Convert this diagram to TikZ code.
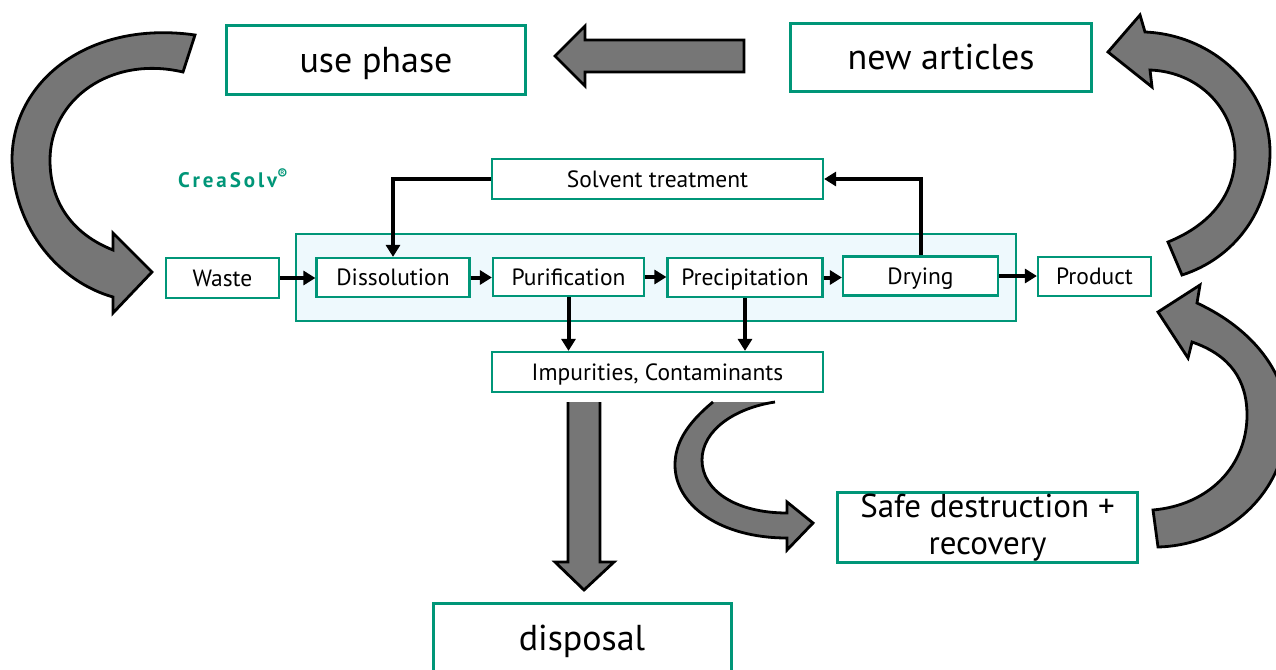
\documentclass[tikz,border=0pt]{standalone}
\usepackage{fontspec}
\setmainfont{PT Sans}
\newfontfamily\creafont[LetterSpace=14]{PT Sans}
\usetikzlibrary{arrows.meta}
\definecolor{fgreen}{RGB}{0,150,120}
\definecolor{agray}{RGB}{118,118,118}
\definecolor{lblue}{RGB}{238,249,253}
\begin{document}
\begin{tikzpicture}[x=1pt,y=-1pt,
  bigbox/.style={draw=fgreen, line width=3pt, fill=white, inner sep=0pt, align=center,
    font=\fontsize{36}{40}\selectfont},
  onebig/.style={bigbox, text height=32pt, text depth=8pt},
  smallbox/.style={draw=fgreen, line width=2.2pt, fill=white, inner sep=0pt,
    font=\fontsize{23.5}{27}\selectfont, text height=21pt, text depth=5pt},
  conn/.style={line width=4pt, -{Triangle[length=12pt,width=14pt]}},
  blockarrow/.style={fill=agray, draw=black, line width=2.8pt, line join=miter},
  blockfill/.style={fill=agray},
  blockline/.style={draw=black, line width=2.8pt, line join=miter}]
\clip (0,0) rectangle (1276,669);
\fill[white] (0,0) rectangle (1276,669);

% container
\node[draw=fgreen, fill=lblue, line width=2.2pt, minimum width=720pt, minimum height=87pt, inner sep=0pt] (proc) at (656,277.5) {};

% boxes
\node[onebig, minimum width=299pt, minimum height=69pt] (use) at (376,60) {use phase};
\node[onebig, minimum width=301pt, minimum height=68pt] (new) at (941,57.5) {new articles};
\node[smallbox, minimum width=331pt, minimum height=40pt] (solv) at (657.5,179) {Solvent treatment};
\node[smallbox, minimum width=113pt, minimum height=40pt] (waste) at (222.5,278) {Waste};
\node[smallbox, minimum width=153pt, minimum height=39pt] (diss) at (393,277.5) {Dissolution};
\node[smallbox, minimum width=151pt, minimum height=38pt] (puri) at (568.5,277) {Purification};
\node[smallbox, minimum width=155pt, minimum height=39pt] (prec) at (745,277.5) {Precipitation};
\node[smallbox, minimum width=155pt, minimum height=39pt] (dry) at (920.5,276) {Drying};
\node[smallbox, minimum width=113pt, minimum height=39pt] (prod) at (1094.5,276.5) {Product};
\node[smallbox, minimum width=331pt, minimum height=40pt] (imp) at (657.5,372) {Impurities, Contaminants};
\node[bigbox, minimum width=300pt, minimum height=70pt, font=\fontsize{33}{37}\selectfont] (safe) at (987.5,527.5) {Safe destruction +\\recovery};
\node[onebig, minimum width=298pt, minimum height=70pt] (disp) at (582,638) {disposal};

\node[text=fgreen, font=\creafont\bfseries\fontsize{21}{24}\selectfont, inner sep=0pt] (crea) at (233,178) {CreaSolv\textsuperscript{®}};

% connectors
\draw[conn] (waste.east) -- (waste.east -| diss.west);
\draw[conn] (diss.east) -- (diss.east -| puri.west);
\draw[conn] (puri.east) -- (puri.east -| prec.west);
\draw[conn] (prec.east) -- (prec.east -| dry.west);
\draw[conn] (dry.east) -- (dry.east -| prod.west);
\draw[conn] (solv.west) -| (diss.north);
\draw[conn] (dry.north) |- (solv.east);
\draw[conn] (puri.south) -- (puri.south |- imp.north);
\draw[conn] (prec.south) -- (prec.south |- imp.north);

% block arrows
% new articles -> use phase
\draw[blockarrow] (744,40) -- (585,40) -- (585,26) -- (555,56) -- (585,86) -- (585,72) -- (744,72) -- cycle;
% impurities -> disposal
\fill[blockfill] (568,402) -- (600,402) -- (600,562) -- (614,562) -- (584,590) -- (555,562) -- (568,562) -- cycle;
\draw[blockline] (600,402) -- (600,562) -- (614,562) -- (584,590) -- (555,562) -- (568,562) -- (568,402);
% use phase -> waste
\draw[blockarrow] (113,297) .. controls (60,282) and (14,230) .. (12,160)
  .. controls (12,80) and (90,20) .. (195,35) -- (183,72)
  .. controls (110,55) and (50,100) .. (50,160)
  .. controls (50,205) and (75,235) .. (113,250)
  -- (113,233) -- (152,272) -- (113,313) -- cycle;
% product -> new articles
\draw[blockarrow] (1145,32) .. controls (1215,35) and (1270,90) .. (1270,152)
  .. controls (1270,210) and (1235,258) .. (1182,275) -- (1168,242)
  .. controls (1210,225) and (1235,195) .. (1235,155)
  .. controls (1235,110) and (1200,72) .. (1150,70)
  -- (1152,87) -- (1108,52) -- (1140,15) -- cycle;
% safe destruction -> product
\draw[blockarrow] (1197,303) .. controls (1255,330) and (1287,375) .. (1287,420)
  .. controls (1287,490) and (1230,545) .. (1158,547) -- (1153,510)
  .. controls (1210,505) and (1247,465) .. (1247,415)
  .. controls (1247,380) and (1230,355) .. (1192,342)
  -- (1188,358) -- (1158,312) -- (1200,285) -- cycle;
% impurities -> safe destruction
\fill[blockfill] (713,402) .. controls (685,425) and (675,445) .. (675,465)
  .. controls (675,505) and (720,538) .. (787,538) -- (787,550) -- (813,523)
  -- (787,502) -- (787,513) .. controls (735,513) and (702,490) .. (702,460)
  .. controls (702,430) and (735,408) .. (775,402) -- cycle;
\draw[blockline] (713,402) .. controls (685,425) and (675,445) .. (675,465)
  .. controls (675,505) and (720,538) .. (787,538) -- (787,550) -- (813,523)
  -- (787,502) -- (787,513) .. controls (735,513) and (702,490) .. (702,460)
  .. controls (702,430) and (735,408) .. (775,402);
\end{tikzpicture}
\end{document}
